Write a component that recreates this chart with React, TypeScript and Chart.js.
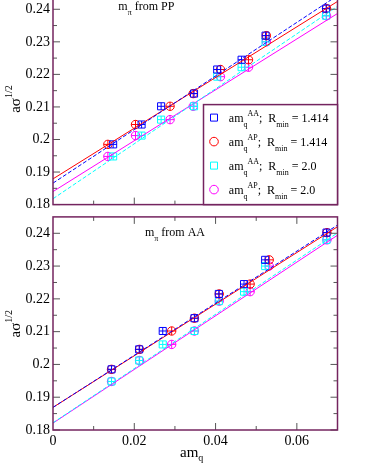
import React, { useEffect, useRef } from "react";
import { Chart, registerables } from "chart.js";

Chart.register(...registerables);

// ---------- data ----------
const X_MIN = 0;
const X_MAX = 0.07;
const Y_MIN = 0.18;
const Y_MAX = 0.245;

const yTickValues = [0.18, 0.19, 0.2, 0.21, 0.22, 0.23, 0.24];
const yTickLabels = ["0.18", "0.19", "0.2", "0.21", "0.22", "0.23", "0.24"];
const yMinorTicks = [0.185, 0.195, 0.205, 0.215, 0.225, 0.235];
const xTickValues = [0, 0.02, 0.04, 0.06];
const xTickLabels = ["0", "0.02", "0.04", "0.06"];
const xMinorTicks = [0.01, 0.03, 0.05];

// string tension a*sqrt(sigma), per lattice, for the two R_min choices
const sigmaR1414 = [0.1985, 0.2046, 0.2102, 0.2141, 0.2215, 0.2245, 0.2319, 0.2402];
const sigmaR20 = [0.1948, 0.2012, 0.2061, 0.2102, 0.2193, 0.2222, 0.2300, 0.2380];

// top panel: m_pi from PP
const ppAmqAA = [0.0148, 0.0218, 0.0266, 0.0347, 0.0404, 0.0464, 0.0523, 0.0672];
const ppAmqAP = [0.0135, 0.0203, 0.0288, 0.0345, 0.0412, 0.0481, 0.0525, 0.0673];
// bottom panel: m_pi from AA
const aaAmqAA = [0.0144, 0.0212, 0.0270, 0.0348, 0.0408, 0.0470, 0.0522, 0.0673];
const aaAmqAP = [0.0144, 0.0213, 0.0292, 0.0348, 0.0409, 0.0485, 0.0532, 0.0674];

// linear fits: values at x = 0 and x = 0.07
const fitX = [0, 0.07];
const ppFitAA1414 = [0.1866, 0.2442];
const ppFitAP1414 = [0.1879, 0.2424];
const ppFitAA20 = [0.1818, 0.2409];
const ppFitAP20 = [0.1840, 0.2387];
const aaFitAA1414 = [0.1869, 0.2425];
const aaFitAP1414 = [0.1869, 0.2420];
const aaFitAA20 = [0.1822, 0.2401];
const aaFitAP20 = [0.1821, 0.2394];

const legendSup = ["AA", "AP", "AA", "AP"];
const legendRmin = ["1.414", "1.414", "2.0", "2.0"];

// ---------- style ----------
const SERIF = "'Liberation Serif', 'Times New Roman', Times, serif";
const FRAME = "#74245f";
const TICK = "#555555";
const BLUE = "#0000ff";
const RED = "#ff0000";
const CYAN = "#00ffff";
const MAGENTA = "#ff00ff";
const legendColors = [BLUE, RED, CYAN, MAGENTA];
const legendShapes = ["rect", "circle", "rect", "circle"];

type Part = { t: string; size: number; dy: number };

function drawParts(ctx: CanvasRenderingContext2D, x: number, y: number, parts: Part[]) {
  let cx = x;
  for (const p of parts) {
    ctx.font = `${p.size}px ${SERIF}`;
    ctx.fillText(p.t, cx, y + p.dy);
    cx += ctx.measureText(p.t).width;
  }
  return cx - x;
}

const pts = (xs: number[], ys: number[]) => xs.map((x, i) => ({ x, y: ys[i] }));

function lineDs(ys: number[], color: string, dashed: boolean) {
  return {
    data: pts(fitX, ys),
    showLine: true,
    borderColor: color,
    borderWidth: 1,
    borderDash: dashed ? [4, 2] : [],
    pointRadius: 0,
    fill: false,
  };
}

function markerDs(xs: number[], ys: number[], color: string, shape: string) {
  return {
    data: pts(xs, ys),
    showLine: false,
    pointStyle: shape,
    pointRadius: shape === "rect" ? 5 : 4.2,
    pointBorderColor: color,
    pointBackgroundColor: "rgba(0,0,0,0)",
    pointBorderWidth: 1,
  };
}

function crossDs(xs: number[], ys: number[], color: string, shape: string) {
  return {
    data: pts(xs, ys),
    showLine: false,
    pointStyle: "cross",
    pointRadius: shape === "rect" ? 3.5 : 4.2,
    pointBorderColor: color,
    pointBackgroundColor: color,
    pointBorderWidth: 1,
  };
}

function buildDatasets(amqAA: number[], amqAP: number[], fits: number[][]) {
  return [
    lineDs(fits[0], BLUE, true),
    lineDs(fits[1], RED, false),
    lineDs(fits[2], CYAN, true),
    lineDs(fits[3], MAGENTA, false),
    crossDs(amqAA, sigmaR1414, BLUE, "rect"),
    markerDs(amqAA, sigmaR1414, BLUE, "rect"),
    crossDs(amqAP, sigmaR1414, RED, "circle"),
    markerDs(amqAP, sigmaR1414, RED, "circle"),
    crossDs(amqAA, sigmaR20, CYAN, "rect"),
    markerDs(amqAA, sigmaR20, CYAN, "rect"),
    crossDs(amqAP, sigmaR20, MAGENTA, "circle"),
    markerDs(amqAP, sigmaR20, MAGENTA, "circle"),
  ];
}

type PanelCfg = {
  key: string;
  source: string;
  noteDx: number;
  noteDy: number;
  legend: boolean;
  xTitle: boolean;
};

function makePlugin(cfg: PanelCfg) {
  return {
    id: "decor" + cfg.key,
    afterDatasetsDraw(chart: any) {
      const ctx: CanvasRenderingContext2D = chart.ctx;
      const a = chart.chartArea;
      const xs = chart.scales.x;
      const ys = chart.scales.y;
      ctx.save();
      // inward ticks
      ctx.strokeStyle = TICK;
      ctx.lineWidth = 1;
      ctx.beginPath();
      const hTick = (v: number, len: number) => {
        const y = ys.getPixelForValue(v);
        ctx.moveTo(a.left, y);
        ctx.lineTo(a.left + len, y);
        ctx.moveTo(a.right, y);
        ctx.lineTo(a.right - len, y);
      };
      const vTick = (v: number, len: number) => {
        const x = xs.getPixelForValue(v);
        ctx.moveTo(x, a.bottom);
        ctx.lineTo(x, a.bottom - len);
        ctx.moveTo(x, a.top);
        ctx.lineTo(x, a.top + len);
      };
      yTickValues.forEach((v) => hTick(v, 7));
      yMinorTicks.forEach((v) => hTick(v, 4));
      xTickValues.forEach((v) => {
        if (v > X_MIN) vTick(v, 7);
      });
      xMinorTicks.forEach((v) => vTick(v, 4));
      ctx.stroke();

      // frame
      ctx.strokeStyle = FRAME;
      ctx.lineWidth = 1.5;
      ctx.strokeRect(a.left, a.top, a.right - a.left, a.bottom - a.top);

      ctx.fillStyle = "#000";
      ctx.textAlign = "left";
      ctx.textBaseline = "alphabetic";

      // panel note
      drawParts(ctx, a.left + cfg.noteDx, a.top + cfg.noteDy, [
        { t: "m", size: 12, dy: 0 },
        { t: "\u03c0", size: 8, dy: 5 },
        { t: " from " + cfg.source, size: 12, dy: 0 },
      ]);

      // y-axis title (rotated)
      const midY = (a.top + a.bottom) / 2;
      ctx.save();
      ctx.translate(20, midY + 14);
      ctx.rotate(-Math.PI / 2);
      drawParts(ctx, 0, 0, [
        { t: "a\u03c3", size: 15, dy: 0 },
        { t: "1/2", size: 10, dy: -8 },
      ]);
      ctx.restore();

      // x-axis title
      if (cfg.xTitle) {
        drawParts(ctx, 180, a.bottom + 27, [
          { t: "am", size: 15, dy: 0 },
          { t: "q", size: 10, dy: 4 },
        ]);
      }

      // legend
      if (cfg.legend) {
        const bw = 134;
        const bh = 100;
        const bx = a.right - bw;
        const by = a.bottom - bh;
        ctx.fillStyle = "#fff";
        ctx.fillRect(bx, by, bw, bh);
        ctx.strokeStyle = FRAME;
        ctx.lineWidth = 1.5;
        ctx.strokeRect(bx, by, bw, bh);
        for (let i = 0; i < 4; i++) {
          const cy = by + 13 + i * 24;
          const mx = bx + 10.5;
          ctx.strokeStyle = legendColors[i];
          ctx.lineWidth = 1;
          ctx.beginPath();
          if (legendShapes[i] === "rect") {
            ctx.rect(mx - 3.5, cy - 3.5, 7, 7);
          } else {
            ctx.arc(mx, cy, 4.3, 0, Math.PI * 2);
          }
          ctx.stroke();
          ctx.fillStyle = "#000";
          drawParts(ctx, bx + 25.3, cy + 4, [
            { t: "am", size: 12, dy: 0 },
            { t: "q", size: 8, dy: 5 },
            { t: legendSup[i], size: 8, dy: -6 },
            { t: ";  R", size: 12, dy: 0 },
            { t: "min", size: 8, dy: 5 },
            { t: " = " + legendRmin[i], size: 12, dy: 0 },
          ]);
        }
      }
      ctx.restore();
    },
  };
}

function makeChart(
  canvas: HTMLCanvasElement,
  datasets: any[],
  cfg: PanelCfg,
  padTop: number,
  xAxisH: number,
  showXLabels: boolean
) {
  return new Chart(canvas, {
    type: "scatter",
    data: { datasets },
    options: {
      responsive: false,
      animation: false,
      events: [],
      layout: { padding: { top: padTop, right: 28.5, left: 0, bottom: 0 } },
      plugins: { legend: { display: false }, tooltip: { enabled: false }, title: { display: false } },
      scales: {
        x: {
          type: "linear",
          min: X_MIN,
          max: X_MAX,
          grid: { display: false, drawTicks: false },
          border: { display: false },
          afterBuildTicks: (s: any) => {
            s.ticks = xTickValues.map((v) => ({ value: v }));
          },
          afterFit: (s: any) => {
            s.height = xAxisH;
          },
          ticks: {
            display: showXLabels,
            autoSkip: false,
            maxRotation: 0,
            padding: 3,
            color: "#000",
            font: { family: SERIF, size: 14 },
            callback: (_v: any, i: number) => xTickLabels[i],
          },
        },
        y: {
          type: "linear",
          min: Y_MIN,
          max: Y_MAX,
          grid: { display: false, drawTicks: false },
          border: { display: false },
          afterBuildTicks: (s: any) => {
            s.ticks = yTickValues.map((v) => ({ value: v }));
          },
          afterFit: (s: any) => {
            s.width = 53;
          },
          ticks: {
            autoSkip: false,
            padding: 3,
            color: "#000",
            font: { family: SERIF, size: 14 },
            callback: (_v: any, i: number) => yTickLabels[i],
          },
        },
      },
    },
    plugins: [makePlugin(cfg)],
  } as any);
}

export default function App() {
  const topRef = useRef<HTMLCanvasElement>(null);
  const botRef = useRef<HTMLCanvasElement>(null);

  useEffect(() => {
    const top = makeChart(
      topRef.current!,
      buildDatasets(ppAmqAA, ppAmqAP, [ppFitAA1414, ppFitAP1414, ppFitAA20, ppFitAP20]),
      { key: "top", source: "PP", noteDx: 65.3, noteDy: 17, legend: true, xTitle: false },
      23,
      10,
      false
    );
    const bot = makeChart(
      botRef.current!,
      buildDatasets(aaAmqAA, aaAmqAP, [aaFitAA1414, aaFitAP1414, aaFitAA20, aaFitAP20]),
      { key: "bot", source: "AA", noteDx: 92, noteDy: 19.4, legend: false, xTitle: true },
      16.9,
      43,
      true
    );
    return () => {
      top.destroy();
      bot.destroy();
    };
  }, []);

  return (
    <div
      style={{
        position: "absolute",
        left: 0,
        top: 0,
        width: 366,
        height: 473,
        overflow: "hidden",
        background: "#fff",
      }}
    >
      <canvas
        ref={topRef}
        width={366}
        height={246}
        style={{ position: "absolute", left: 0, top: -30, width: 366, height: 246 }}
      />
      <canvas
        ref={botRef}
        width={366}
        height={273}
        style={{ position: "absolute", left: 0, top: 200, width: 366, height: 273 }}
      />
    </div>
  );
}
